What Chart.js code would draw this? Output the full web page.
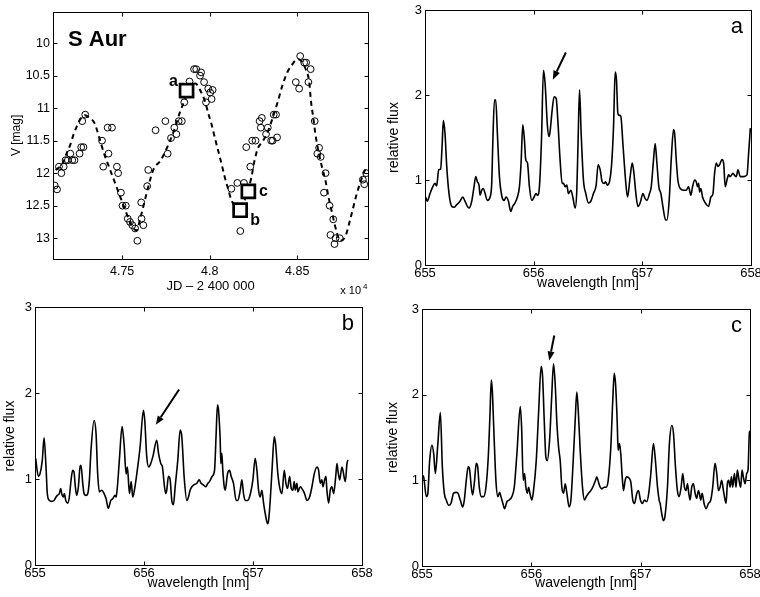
<!DOCTYPE html>
<html>
<head>
<meta charset="utf-8">
<title>S Aur</title>
<script src="https://cdn.jsdelivr.net/npm/chart.js@4.4.1/dist/chart.umd.min.js"></script>
<style>
  html, body { margin: 0; padding: 0; background: #fff; }
  #figure { position: relative; width: 760px; height: 597px; }
  .panel { position: absolute; }
  .panel canvas { display: block; }
</style>
</head>
<body>
<div id="figure">
  <div class="panel" style="left:0;top:0;width:380px;height:300px"><canvas id="lightCurve"></canvas></div>
  <div class="panel" style="left:380px;top:0;width:380px;height:300px"><canvas id="specA"></canvas></div>
  <div class="panel" style="left:0;top:300px;width:380px;height:297px"><canvas id="specB"></canvas></div>
  <div class="panel" style="left:380px;top:300px;width:380px;height:297px"><canvas id="specC"></canvas></div>
</div>
<script>
// ── Data ─────────────────────────────────────────────────

// V-band observations (JD - 2 400 000, mag)
const obsJD = [
  47115, 47128, 47139, 47153, 47166, 47177, 47190, 47204, 47215, 47228,
  47257, 47266, 47279, 47272, 47289, 47392, 47385, 47422, 47417, 47442,
  47470, 47477, 47493, 47502, 47521, 47532, 47545, 47558, 47574, 47587,
  47611, 47621, 47609, 47643, 47649, 47691, 47747, 47760, 47779, 47798,
  47810, 47823, 47841, 47855, 47885, 47911, 47923, 47951, 47945, 47968,
  47979, 47992, 48003, 48011, 48017, 48124, 48158, 48196, 48175, 48232,
  48209, 48243, 48262, 48285, 48298, 48292, 48332, 48322, 48351, 48360,
  48385, 48366, 48379, 48517, 48540, 48551, 48577, 48492, 48511, 48564,
  48600, 48625, 48615, 48634, 48662, 48653, 48685, 48706, 48690, 48719,
  48743, 48713, 48875, 48894, 48883
];
const obsMag = [
  12.19, 12.25, 11.90, 12.00, 11.90, 11.80, 11.80, 11.70, 11.80, 11.80,
  11.70, 11.60, 11.60, 11.20, 11.10, 11.90, 11.50, 11.70, 11.30, 11.30,
  11.90, 12.00, 12.30, 12.50, 12.50, 12.70, 12.75, 12.80, 12.85, 13.04,
  12.70, 12.80, 12.45, 12.20, 11.95, 11.34, 11.20, 11.70, 11.46, 11.30,
  11.40, 11.20, 11.20, 10.91, 10.59, 10.40, 10.40, 10.45, 10.50, 10.60,
  10.91, 10.70, 10.76, 10.86, 10.72, 12.24, 12.15, 12.15, 12.89, 11.90,
  11.60, 11.50, 11.50, 11.20, 11.15, 11.30, 11.30, 11.40, 11.50, 11.50,
  11.45, 11.10, 11.10, 10.20, 10.30, 10.30, 10.40, 10.60, 10.70, 10.60,
  11.20, 11.61, 11.70, 11.75, 12.00, 12.30, 12.50, 12.71, 12.95, 13.00,
  13.00, 13.09, 12.10, 12.00, 12.17
];

// smoothed light curve
const fitJD = [
  47120, 47158, 47185, 47204, 47223, 47241, 47266, 47287, 47313, 47342,
  47370, 47398, 47426, 47455, 47483, 47511, 47540, 47565, 47582, 47606,
  47625, 47653, 47681, 47719, 47756, 47794, 47832, 47870, 47898, 47918,
  47945, 47974, 47992, 48011, 48030, 48049, 48068, 48087, 48106, 48125,
  48150, 48175, 48205, 48238, 48256, 48275, 48303, 48332, 48360, 48389,
  48417, 48445, 48474, 48492, 48507, 48527, 48547, 48568, 48579, 48592,
  48604, 48625, 48642, 48662, 48679, 48700, 48727, 48745, 48774, 48802,
  48840, 48878, 48896
];
const fitMag = [
  11.95, 11.86, 11.68, 11.56, 11.40, 11.28, 11.15, 11.11, 11.15, 11.23,
  11.46, 11.71, 11.91, 12.12, 12.32, 12.52, 12.72, 12.85, 12.88, 12.67,
  12.47, 12.17, 11.93, 11.81, 11.61, 11.36, 11.05, 10.80, 10.65, 10.62,
  10.72, 10.90, 11.08, 11.25, 11.46, 11.66, 11.86, 12.07, 12.25, 12.42,
  12.50, 12.50, 12.38, 12.07, 11.81, 11.62, 11.51, 11.36, 11.15, 10.90,
  10.64, 10.44, 10.32, 10.26, 10.25, 10.29, 10.39, 10.59, 10.90, 11.15,
  11.40, 11.71, 11.91, 12.12, 12.37, 12.62, 12.92, 13.04, 12.98, 12.72,
  12.32, 12.01, 11.91
];

// epochs of the three spectra
const specLabels = ['a', 'b', 'c'];
const specJD = [47868, 48174, 48221];
const specMag = [10.73, 12.57, 12.28];

const lcJDTicks = [47500, 48000, 48500];
const lcMagTicks = [10, 10.5, 11, 11.5, 12, 12.5, 13];

// spectrum a
const waveA = [
  655.006, 655.021, 655.046, 655.071, 655.092, 655.107, 655.126, 655.144, 655.157, 655.169,
  655.184, 655.200, 655.221, 655.246, 655.267, 655.292, 655.322, 655.347, 655.362, 655.390,
  655.405, 655.430, 655.451, 655.467, 655.482, 655.497, 655.507, 655.522, 655.537, 655.553,
  655.574, 655.599, 655.614, 655.623, 655.639, 655.651, 655.666, 655.685, 655.709, 655.728,
  655.746, 655.768, 655.789, 655.807, 655.829, 655.850, 655.869, 655.884, 655.900, 655.915,
  655.927, 655.943, 655.961, 655.983, 656.004, 656.022, 656.035, 656.053, 656.072, 656.090,
  656.105, 656.127, 656.142, 656.151, 656.170, 656.188, 656.207, 656.222, 656.243, 656.262,
  656.274, 656.290, 656.305, 656.320, 656.342, 656.360, 656.382, 656.397, 656.409, 656.422,
  656.437, 656.458, 656.480, 656.504, 656.526, 656.550, 656.575, 656.593, 656.612, 656.630,
  656.649, 656.661, 656.679, 656.698, 656.716, 656.735, 656.750, 656.762, 656.775, 656.790,
  656.802, 656.821, 656.836, 656.851, 656.864, 656.888, 656.907, 656.919, 656.944, 656.959,
  656.980, 657.005, 657.026, 657.042, 657.066, 657.082, 657.103, 657.118, 657.134, 657.152,
  657.171, 657.189, 657.214, 657.226, 657.247, 657.266, 657.287, 657.297, 657.312, 657.327,
  657.349, 657.379, 657.404, 657.425, 657.447, 657.462, 657.481, 657.496, 657.508, 657.518,
  657.527, 657.539, 657.554, 657.579, 657.610, 657.631, 657.650, 657.665, 657.680, 657.696,
  657.711, 657.733, 657.748, 657.763, 657.779, 657.794, 657.809, 657.834, 657.846, 657.865,
  657.880, 657.901, 657.932, 657.963, 657.978, 657.994
];
const fluxA = [
  0.80, 0.75, 0.84, 0.92, 0.96, 0.93, 1.12, 1.13, 1.39, 1.70,
  1.55, 1.16, 0.84, 0.69, 0.68, 0.71, 0.75, 0.80, 0.77, 0.69,
  0.67, 0.75, 0.92, 1.04, 0.98, 0.94, 0.82, 0.88, 0.90, 0.84,
  0.76, 0.80, 0.96, 1.39, 1.94, 1.94, 1.55, 1.04, 0.80, 0.76,
  0.80, 0.75, 0.63, 0.69, 0.73, 0.80, 0.92, 1.20, 1.65, 1.47,
  1.24, 1.20, 0.92, 0.76, 0.80, 0.84, 0.82, 0.92, 1.47, 2.29,
  2.14, 1.63, 1.51, 1.57, 1.82, 1.98, 1.96, 1.71, 1.24, 0.96,
  0.96, 0.92, 0.94, 0.84, 0.88, 0.80, 0.67, 0.88, 1.47, 2.06,
  1.55, 1.00, 0.84, 0.73, 0.75, 0.84, 0.94, 1.18, 1.12, 0.98,
  0.96, 0.98, 0.94, 0.98, 1.16, 1.63, 2.27, 2.18, 1.78, 1.76,
  1.75, 1.43, 1.16, 0.92, 0.80, 1.04, 1.20, 1.12, 0.80, 0.69,
  0.73, 0.84, 0.78, 0.76, 0.84, 0.92, 1.24, 1.43, 1.20, 0.92,
  0.84, 0.69, 0.53, 0.53, 0.76, 1.24, 1.59, 1.55, 1.24, 1.00,
  0.90, 0.88, 0.88, 0.92, 0.82, 0.92, 1.00, 0.98, 0.92, 0.96,
  0.86, 0.90, 0.80, 0.73, 0.69, 0.80, 0.84, 1.08, 1.20, 1.16,
  1.18, 1.24, 1.20, 0.92, 1.00, 1.06, 1.04, 1.08, 1.06, 1.04,
  1.12, 1.04, 1.04, 1.06, 1.31, 1.61
];

// spectrum b
const waveB = [
  655.006, 655.031, 655.046, 655.067, 655.083, 655.101, 655.113, 655.132, 655.153, 655.174,
  655.193, 655.205, 655.223, 655.236, 655.245, 655.260, 655.269, 655.282, 655.300, 655.315,
  655.331, 655.346, 655.358, 655.370, 655.383, 655.398, 655.413, 655.422, 655.438, 655.450,
  655.468, 655.484, 655.499, 655.514, 655.542, 655.560, 655.575, 655.591, 655.612, 655.634,
  655.652, 655.673, 655.695, 655.713, 655.735, 655.744, 655.756, 655.774, 655.799, 655.817,
  655.836, 655.848, 655.866, 655.882, 655.897, 655.912, 655.934, 655.964, 655.995, 656.007,
  656.025, 656.044, 656.062, 656.081, 656.117, 656.133, 656.154, 656.169, 656.188, 656.200,
  656.209, 656.224, 656.240, 656.255, 656.270, 656.286, 656.310, 656.332, 656.347, 656.368,
  656.393, 656.408, 656.423, 656.439, 656.454, 656.485, 656.506, 656.524, 656.546, 656.567,
  656.586, 656.601, 656.625, 656.647, 656.662, 656.674, 656.684, 656.699, 656.705, 656.714,
  656.723, 656.736, 656.745, 656.766, 656.785, 656.800, 656.821, 656.846, 656.861, 656.883,
  656.898, 656.913, 656.928, 656.950, 656.968, 656.999, 657.020, 657.036, 657.051, 657.066,
  657.081, 657.097, 657.112, 657.134, 657.143, 657.158, 657.176, 657.195, 657.207, 657.228,
  657.250, 657.265, 657.287, 657.302, 657.317, 657.336, 657.351, 657.366, 657.378, 657.388,
  657.403, 657.412, 657.434, 657.458, 657.473, 657.495, 657.519, 657.541, 657.562, 657.587,
  657.602, 657.617, 657.632, 657.642, 657.657, 657.669, 657.678, 657.694, 657.709, 657.724,
  657.740, 657.761, 657.770, 657.779, 657.795, 657.816, 657.825, 657.847, 657.862, 657.871
];
const fluxB = [
  1.24, 1.03, 1.06, 1.22, 1.48, 1.14, 0.83, 0.75, 0.74, 0.75,
  0.79, 0.81, 0.83, 0.89, 0.83, 0.79, 0.83, 0.75, 0.72, 0.79,
  0.99, 1.10, 1.08, 0.91, 0.81, 0.91, 1.14, 1.16, 0.95, 0.83,
  0.81, 0.83, 0.99, 1.34, 1.68, 1.53, 1.06, 0.85, 0.87, 0.83,
  0.77, 0.66, 0.75, 0.77, 0.81, 0.79, 0.91, 1.22, 1.61, 1.41,
  1.06, 1.14, 0.83, 0.97, 0.79, 0.87, 1.06, 1.37, 1.80, 1.68,
  1.26, 1.14, 1.18, 1.26, 1.45, 1.30, 1.18, 1.14, 0.91, 0.83,
  0.87, 1.03, 0.99, 0.75, 0.70, 0.91, 1.22, 1.57, 1.49, 1.03,
  0.75, 0.79, 0.87, 0.91, 0.93, 0.95, 0.99, 0.95, 0.93, 0.91,
  0.95, 0.97, 1.03, 1.10, 1.53, 1.86, 1.80, 1.45, 1.18, 1.30,
  1.10, 0.91, 0.87, 1.06, 1.10, 1.03, 0.95, 0.75, 0.75, 0.87,
  0.99, 0.83, 0.75, 0.75, 0.79, 0.99, 1.24, 1.10, 0.87, 0.79,
  0.87, 0.72, 0.60, 0.48, 0.52, 0.75, 1.14, 1.49, 1.41, 1.06,
  0.87, 0.83, 1.10, 0.95, 0.89, 1.03, 0.89, 0.87, 0.97, 0.87,
  0.95, 0.85, 0.91, 0.87, 0.83, 0.75, 0.79, 0.91, 1.06, 1.14,
  1.10, 0.95, 0.99, 0.91, 0.99, 1.03, 0.87, 0.72, 0.87, 0.91,
  0.83, 1.06, 1.18, 1.10, 0.99, 1.14, 1.10, 0.97, 1.18, 1.22
];

// spectrum c
const waveC = [
  655.003, 655.015, 655.040, 655.052, 655.070, 655.091, 655.107, 655.122, 655.143, 655.168,
  655.186, 655.204, 655.222, 655.244, 655.265, 655.289, 655.314, 655.329, 655.350, 655.372,
  655.387, 655.405, 655.423, 655.436, 655.451, 655.463, 655.481, 655.496, 655.509, 655.524,
  655.542, 655.564, 655.585, 655.606, 655.621, 655.634, 655.643, 655.658, 655.676, 655.694,
  655.710, 655.722, 655.740, 655.755, 655.777, 655.798, 655.822, 655.844, 655.868, 655.899,
  655.911, 655.926, 655.938, 655.950, 655.963, 655.975, 655.987, 656.005, 656.020, 656.045,
  656.066, 656.090, 656.103, 656.118, 656.133, 656.145, 656.167, 656.185, 656.203, 656.218,
  656.234, 656.249, 656.264, 656.279, 656.295, 656.310, 656.325, 656.346, 656.362, 656.383,
  656.401, 656.416, 656.429, 656.447, 656.468, 656.486, 656.502, 656.523, 656.544, 656.569,
  656.587, 656.599, 656.614, 656.630, 656.645, 656.666, 656.684, 656.703, 656.727, 656.745,
  656.758, 656.770, 656.785, 656.794, 656.806, 656.818, 656.831, 656.843, 656.858, 656.873,
  656.898, 656.910, 656.928, 656.943, 656.965, 656.980, 656.998, 657.016, 657.035, 657.056,
  657.074, 657.093, 657.117, 657.135, 657.154, 657.169, 657.178, 657.193, 657.208, 657.221,
  657.245, 657.263, 657.285, 657.300, 657.318, 657.336, 657.352, 657.370, 657.385, 657.400,
  657.415, 657.428, 657.440, 657.452, 657.467, 657.482, 657.498, 657.513, 657.528, 657.537,
  657.550, 657.562, 657.580, 657.598, 657.620, 657.641, 657.659, 657.680, 657.696, 657.711,
  657.726, 657.741, 657.757, 657.772, 657.781, 657.793, 657.805, 657.818, 657.830, 657.842,
  657.857, 657.872, 657.884, 657.900, 657.915, 657.927, 657.939, 657.955, 657.970, 657.982,
  657.994, 658.000
];
const fluxC = [
  1.06, 1.04, 0.81, 0.83, 1.23, 1.41, 1.31, 1.08, 1.39, 1.79,
  1.16, 0.85, 0.77, 0.71, 0.73, 0.85, 0.86, 0.85, 0.77, 0.69,
  0.77, 1.00, 1.16, 1.12, 0.92, 0.83, 1.00, 1.20, 1.16, 0.92,
  0.81, 0.81, 0.92, 1.27, 1.74, 2.17, 2.05, 1.55, 1.00, 0.81,
  0.86, 0.81, 0.73, 0.67, 0.75, 0.77, 0.81, 0.92, 1.31, 1.86,
  1.62, 1.00, 1.08, 0.92, 0.85, 0.92, 0.85, 0.77, 0.88, 1.23,
  1.78, 2.33, 2.21, 1.70, 1.27, 1.23, 1.47, 1.94, 2.36, 2.13,
  1.66, 1.39, 1.23, 0.92, 0.85, 0.96, 0.85, 0.69, 0.77, 1.23,
  1.70, 2.03, 1.82, 1.35, 0.92, 0.77, 0.81, 0.85, 0.88, 0.94,
  1.00, 1.04, 0.98, 0.92, 0.90, 0.92, 0.92, 1.00, 1.39, 1.94,
  2.25, 2.13, 1.70, 1.35, 1.43, 1.31, 1.04, 0.88, 1.00, 1.04,
  1.02, 0.98, 0.77, 0.73, 0.85, 0.88, 0.77, 0.73, 0.77, 0.75,
  0.85, 1.08, 1.43, 1.23, 0.92, 0.77, 0.73, 0.61, 0.53, 0.57,
  0.92, 1.43, 1.64, 1.55, 1.16, 0.88, 0.81, 0.92, 1.08, 0.92,
  0.88, 0.96, 0.85, 0.77, 0.92, 0.96, 0.85, 0.79, 0.88, 0.85,
  0.77, 0.85, 0.73, 0.67, 0.73, 0.77, 0.92, 1.20, 1.08, 0.88,
  0.92, 1.00, 0.88, 0.77, 0.73, 0.96, 1.00, 0.92, 1.04, 0.92,
  1.08, 0.92, 1.12, 1.00, 0.92, 1.12, 1.04, 0.96, 1.08, 1.12,
  1.55, 1.58
];

const waveTicks = [655, 656, 657, 658];
const fluxTicks = [0, 1, 2, 3];

// arrows marking the split line: [wavelength, flux] of tail and head
const arrowA = [[656.296, 2.50], [656.176, 2.18]];
const arrowB = [[656.322, 2.04], [656.108, 1.63]];
const arrowC = [[656.210, 2.69], [656.164, 2.40]];

// ── Shared pieces ────────────────────────────────────────

const FONT = '"Liberation Sans", Arial, Helvetica, sans-serif';

Chart.defaults.font.family = FONT;
Chart.defaults.color = '#000';

// box round the plot area with short inward ticks on all four sides
const framePlugin = {
  id: 'frame',
  afterDraw(chart) {
    const { ctx, chartArea: a, scales: { x, y } } = chart;
    const len = 4;
    const l = Math.round(a.left) + 0.5, r = Math.round(a.right) + 0.5;
    const t = Math.round(a.top) + 0.5, b = Math.round(a.bottom) + 0.5;
    ctx.save();
    ctx.strokeStyle = '#000';
    ctx.lineWidth = 1;
    ctx.strokeRect(l, t, r - l, b - t);
    ctx.beginPath();
    x.ticks.forEach(tk => {
      const px = Math.round(x.getPixelForValue(tk.value)) + 0.5;
      ctx.moveTo(px, b); ctx.lineTo(px, b - len);
      ctx.moveTo(px, t); ctx.lineTo(px, t + len);
    });
    y.ticks.forEach(tk => {
      const py = Math.round(y.getPixelForValue(tk.value)) + 0.5;
      ctx.moveTo(l, py); ctx.lineTo(l + len, py);
      ctx.moveTo(r, py); ctx.lineTo(r - len, py);
    });
    ctx.stroke();
    ctx.restore();
  }
};

// arrow given in data coordinates
const arrowPlugin = {
  id: 'arrow',
  afterDatasetsDraw(chart, args, opts) {
    if (!opts.points) return;
    const { ctx, scales: { x, y } } = chart;
    const [from, to] = opts.points;
    const x0 = x.getPixelForValue(from[0]), y0 = y.getPixelForValue(from[1]);
    const x1 = x.getPixelForValue(to[0]), y1 = y.getPixelForValue(to[1]);
    const ang = Math.atan2(y1 - y0, x1 - x0);
    const head = 9, half = 3.5;
    const bx = x1 - head * Math.cos(ang), by = y1 - head * Math.sin(ang);
    ctx.save();
    ctx.strokeStyle = '#000';
    ctx.fillStyle = '#000';
    ctx.lineWidth = 2;
    ctx.beginPath();
    ctx.moveTo(x0, y0);
    ctx.lineTo(bx, by);
    ctx.stroke();
    ctx.beginPath();
    ctx.moveTo(x1, y1);
    ctx.lineTo(bx + half * Math.sin(ang), by - half * Math.cos(ang));
    ctx.lineTo(bx - half * Math.sin(ang), by + half * Math.cos(ang));
    ctx.closePath();
    ctx.fill();
    ctx.restore();
  }
};

// panel letter in the upper right corner
const letterPlugin = {
  id: 'letter',
  afterDraw(chart, args, opts) {
    if (!opts.text) return;
    const { ctx, chartArea: a } = chart;
    ctx.save();
    ctx.font = `22px ${FONT}`;
    ctx.fillStyle = '#000';
    ctx.textAlign = 'right';
    ctx.textBaseline = 'alphabetic';
    ctx.fillText(opts.text, a.right - 8, a.top + 23);
    ctx.restore();
  }
};

// fixed axis sizes so the plot boxes sit where they should
function fixY(width) {
  return s => { s.width = width; s.paddingTop = 0; s.paddingBottom = 0; };
}
function fixX(height) {
  return s => { s.height = height; s.paddingLeft = 0; s.paddingRight = 0; };
}
function useTicks(values) {
  return s => { s.ticks = values.map(v => ({ value: v })); };
}

// ── Light curve ──────────────────────────────────────────

const lcTextPlugin = {
  id: 'lcText',
  afterDraw(chart) {
    const { ctx, chartArea: a } = chart;
    ctx.save();
    ctx.fillStyle = '#000';

    ctx.font = `bold 22px ${FONT}`;
    ctx.textAlign = 'left';
    ctx.textBaseline = 'alphabetic';
    ctx.fillText('S Aur', a.left + 15, a.top + 34);

    // labels next to the spectrum epochs
    const offsets = [[-13, -9], [15, 10], [15, 0]];
    const meta = chart.getDatasetMeta(0);
    ctx.font = `bold 16px ${FONT}`;
    ctx.textAlign = 'center';
    ctx.textBaseline = 'middle';
    meta.data.forEach((pt, i) => {
      ctx.fillText(specLabels[i], pt.x + offsets[i][0], pt.y + offsets[i][1]);
    });

    // axis multiplier
    ctx.textBaseline = 'alphabetic';
    ctx.textAlign = 'right';
    ctx.font = `11px ${FONT}`;
    ctx.fillText('x 10', a.right - 7, a.bottom + 35);
    ctx.textAlign = 'left';
    ctx.font = `8px ${FONT}`;
    ctx.fillText('4', a.right - 5, a.bottom + 30);
    ctx.restore();
  }
};

function initLightCurve() {
  const obs = obsJD.map((jd, i) => ({ x: jd, y: obsMag[i] }));
  const fit = fitJD.map((jd, i) => ({ x: jd, y: fitMag[i] }));
  const spec = specJD.map((jd, i) => ({ x: jd, y: specMag[i] }));

  new Chart(document.getElementById('lightCurve'), {
    type: 'scatter',
    data: {
      datasets: [
        {
          label: 'spectra',
          data: spec,
          pointStyle: 'rect',
          pointRadius: 9.2,
          borderWidth: 2.7,
          borderColor: '#000',
          backgroundColor: '#fff'
        },
        {
          label: 'V',
          data: obs,
          pointStyle: 'circle',
          pointRadius: 3.4,
          borderWidth: 1,
          borderColor: '#000',
          backgroundColor: 'rgba(0,0,0,0)'
        },
        {
          label: 'fit',
          type: 'line',
          data: fit,
          borderColor: '#000',
          borderWidth: 2,
          borderDash: [5, 4],
          pointRadius: 0,
          cubicInterpolationMode: 'monotone',
          fill: false
        }
      ]
    },
    options: {
      responsive: true,
      maintainAspectRatio: false,
      animation: false,
      events: [],
      layout: { padding: { top: 9, right: 9, left: 0, bottom: 0 } },
      plugins: { legend: { display: false }, tooltip: { enabled: false } },
      scales: {
        x: {
          type: 'linear',
          min: 47105,
          max: 48905,
          afterFit: fixX(41),
          afterBuildTicks: useTicks(lcJDTicks),
          grid: { display: false, drawTicks: false },
          border: { display: false },
          ticks: {
            padding: 5,
            maxRotation: 0,
            autoSkip: false,
            font: { size: 12.5 },
            callback: v => String(v / 1e4)
          },
          title: {
            display: true,
            text: 'JD – 2 400 000',
            font: { size: 13 },
            padding: { top: 0, bottom: 5.5 }
          }
        },
        y: {
          reverse: true,
          min: 9.52,
          max: 13.32,
          afterFit: fixY(53),
          afterBuildTicks: useTicks(lcMagTicks),
          grid: { display: false, drawTicks: false },
          border: { display: false },
          ticks: {
            padding: 3,
            autoSkip: false,
            font: { size: 12.5 },
            callback: v => String(v)
          },
          title: {
            display: true,
            text: 'V [mag]',
            font: { size: 12 },
            padding: { top: 9.5, bottom: 0 }
          }
        }
      }
    },
    plugins: [framePlugin, lcTextPlugin]
  });
}

// ── Spectra ──────────────────────────────────────────────

function initSpectrum(id, wave, flux, letter, arrow, box) {
  const data = wave.map((w, i) => ({ x: w, y: flux[i] }));

  new Chart(document.getElementById(id), {
    type: 'line',
    data: {
      datasets: [{
        data: data,
        borderColor: '#000',
        borderWidth: 1.6,
        pointRadius: 0,
        cubicInterpolationMode: 'monotone',
        fill: false
      }]
    },
    options: {
      responsive: true,
      maintainAspectRatio: false,
      animation: false,
      events: [],
      layout: { padding: { top: box.top, right: box.right, left: 0, bottom: 0 } },
      plugins: {
        legend: { display: false },
        tooltip: { enabled: false },
        letter: { text: letter },
        arrow: { points: arrow }
      },
      scales: {
        x: {
          type: 'linear',
          min: 655,
          max: 658,
          afterFit: fixX(box.xHeight),
          afterBuildTicks: useTicks(waveTicks),
          grid: { display: false, drawTicks: false },
          border: { display: false },
          ticks: { padding: 1, maxRotation: 0, autoSkip: false, font: { size: 13 } },
          title: {
            display: true,
            text: 'wavelength [nm]',
            font: { size: 14 },
            padding: { top: 0, bottom: box.xTitle }
          }
        },
        y: {
          min: 0,
          max: 3,
          afterFit: fixY(box.yWidth),
          afterBuildTicks: useTicks(fluxTicks),
          grid: { display: false, drawTicks: false },
          border: { display: false },
          ticks: { padding: 3, autoSkip: false, font: { size: 13 } },
          title: {
            display: true,
            text: 'relative flux',
            font: { size: 14 },
            padding: { top: box.yTitle, bottom: 0 }
          }
        }
      }
    },
    plugins: [framePlugin, arrowPlugin, letterPlugin]
  });
}

document.addEventListener('DOMContentLoaded', () => {
  initLightCurve();
  initSpectrum('specA', waveA, fluxA, 'a', arrowA,
    { top: 10, right: 9, xHeight: 35, yWidth: 45, xTitle: 8.6, yTitle: 5.6 });
  initSpectrum('specB', waveB, fluxB, 'b', arrowB,
    { top: 7, right: 18, xHeight: 32, yWidth: 35, xTitle: 5.3, yTitle: 1.6 });
  initSpectrum('specC', waveC, fluxC, 'c', arrowC,
    { top: 9, right: 10, xHeight: 31, yWidth: 42, xTitle: 5.3, yTitle: 5 });
});
</script>
</body>
</html>
